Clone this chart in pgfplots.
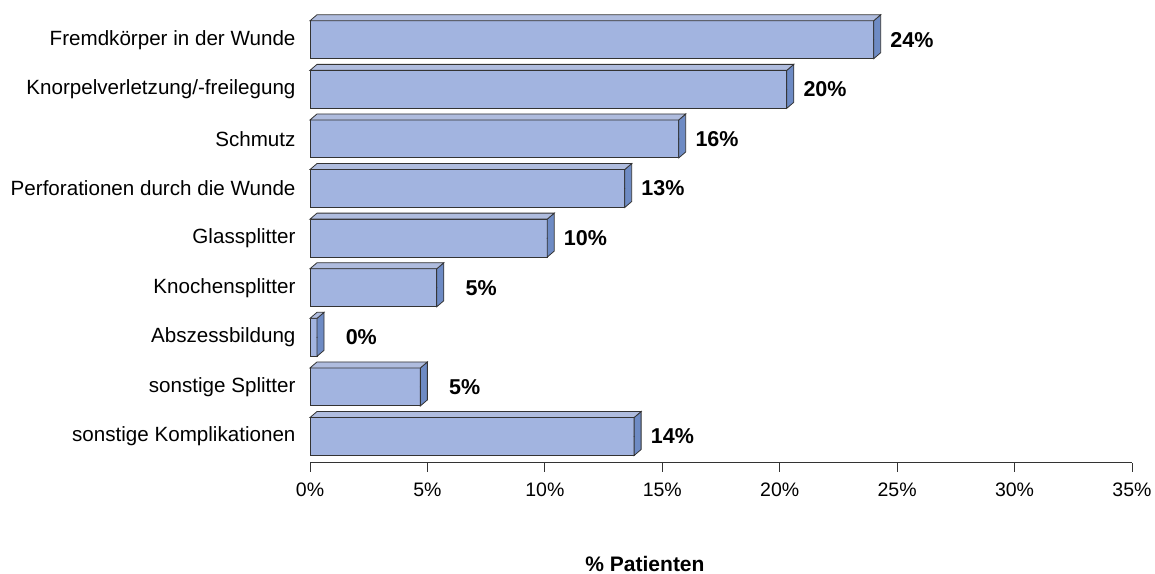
\documentclass[border=0pt]{standalone}
\usepackage{pgfplots}
\pgfplotsset{compat=1.18}
\usepackage{pgfplotstable}
\usepackage{fontspec}
\setmainfont{Liberation Sans}

\definecolor{barfront}{HTML}{A2B4E0}
\definecolor{barside}{HTML}{6E8BC4}
\definecolor{bartop}{HTML}{AFBCDE}
\definecolor{edge}{HTML}{333333}

% share of patients (%) per complication; lab = printed value
\pgfplotstableread{
pos share lab
8 24.0 24
7 20.3 20
6 15.7 16
5 13.4 13
4 10.1 10
3 5.4 5
2 0.3 0
1 4.7 5
0 13.8 14
}\complications

% polygon through four canvas points, filled and outlined
\newcommand\face[5]{%
  \pgfsetfillcolor{#1}%
  \pgfpathmoveto{#2}\pgfpathlineto{#3}\pgfpathlineto{#4}\pgfpathlineto{#5}%
  \pgfpathclose\pgfusepath{fill,stroke}}

\begin{document}
\begin{tikzpicture}
\useasboundingbox (0,0) rectangle (1155bp,574bp);
\begin{axis}[
  at={(310bp,111bp)}, anchor=south west,
  scale only axis, width=822bp, height=453bp,
  xmin=0, xmax=35, ymin=-0.534, ymax=8.6,
  clip=false,
  axis lines*=left,
  axis line style={-},
  x axis line style={draw=edge, line width=1bp},
  y axis line style={draw=none},
  tick align=outside,
  major tick length=9bp,
  x tick style={draw=edge, line width=0.8bp},
  y tick style={draw=none},
  xtick={0,5,...,35},
  xticklabels={0\%,5\%,10\%,15\%,20\%,25\%,30\%,35\%},
  xticklabel style={font=\fontsize{19.5bp}{22bp}\selectfont, yshift=-7bp},
  ytick={0,...,8},
  yticklabels={sonstige Komplikationen,sonstige Splitter,Abszessbildung,Knochensplitter,Glassplitter,Perforationen durch die Wunde,Schmutz,Knorpelverletzung/-freilegung,Fremdkörper in der Wunde},
  yticklabel style={font=\fontsize{20.6bp}{24bp}\selectfont, xshift=-2bp},
]
% front faces of the bars
\addplot[xbar, bar width=38bp, fill=barfront, draw=edge, line width=1bp]
  table[x=share, y=pos]{\complications};
% side and top faces of each bar, drawn at the bar's end point
\addplot[scatter, only marks, mark=*, mark size=0.01pt,
  visualization depends on={x \as \barlen},
  scatter/@pre marker code/.code={%
    \begin{pgfscope}%
    \pgfkeys{/pgf/fpu=false}%
    \pgfmathsetlengthmacro\barL{\barlen*23.4857bp}%
    \pgfsetlinewidth{0.8bp}\pgfsetstrokecolor{edge}%
    \face{barside}{\pgfpoint{0bp}{-19bp}}{\pgfpoint{7bp}{-13bp}}%
      {\pgfpoint{7bp}{25bp}}{\pgfpoint{0bp}{19bp}}%
    \face{bartop}{\pgfpoint{0bp}{19bp}}{\pgfpoint{7bp}{25bp}}%
      {\pgfpoint{7bp-\barL}{25bp}}{\pgfpoint{-\barL}{19bp}}%
  },
  scatter/@post marker code/.code={\end{pgfscope}},
] table[x=share, y=pos]{\complications};
% value labels, right-aligned a fixed distance past each bar
\addplot[only marks, mark=none, point meta=explicit,
  nodes near coords={\pgfmathprintnumber[precision=0, assume math mode=true]{\pgfplotspointmeta}\%},
  every node near coord/.append style={anchor=east, xshift=60bp, inner sep=0pt,
    font=\fontsize{21.5bp}{24bp}\selectfont\bfseries, text=black},
] table[x=share, y=pos, meta=lab]{\complications};
\end{axis}
\node[anchor=base, font=\fontsize{21bp}{24bp}\selectfont\bfseries]
  at (645bp,2.5bp) {\% Patienten};
\end{tikzpicture}
\end{document}
